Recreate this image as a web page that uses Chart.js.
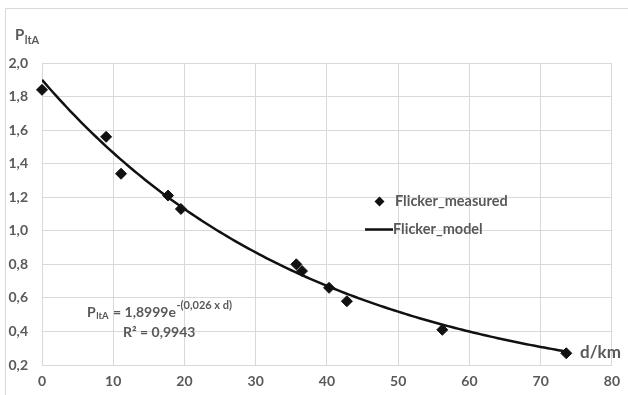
<!DOCTYPE html>
<html>
<head>
<meta charset="utf-8">
<script src="https://cdn.jsdelivr.net/npm/chart.js@4/dist/chart.umd.min.js"></script>
<style>
  html, body { margin: 0; padding: 0; background: #fff; }
  #wrap { width: 628px; height: 395px; position: relative; }
</style>
</head>
<body>
<div id="wrap"><canvas id="c" width="628" height="395"></canvas></div>
<script>
// Measured flicker severity P_ltA versus distance d (km)
const distanceKm      = [0, 9.0, 11.1, 17.7, 19.5, 35.7, 36.5, 40.3, 42.8, 56.2, 73.6];
const flickerMeasured = [1.84, 1.56, 1.34, 1.21, 1.13, 0.80, 0.76, 0.66, 0.58, 0.41, 0.27];

// Axis ticks
const xTicks = [0, 10, 20, 30, 40, 50, 60, 70, 80];
const yTicks = [0.2, 0.4, 0.6, 0.8, 1.0, 1.2, 1.4, 1.6, 1.8, 2.0];

// Exponential trend model: P_ltA = A * e^-(k * d)
const modelA = 1.8999;
const modelK = 0.026;
const modelR2 = '0,9943';

const seriesNames = ['Flicker_measured', 'Flicker_model'];

const TEXT = '#595959';
const GRID = '#d9d9d9';
const INK = '#111111';
const FONT = 'Lato, "Open Sans", sans-serif';

// Trend curve evaluated along the measured distance range
const modelPoints = [];
const dEnd = distanceKm[distanceKm.length - 1];
for (let d = 0; d < dEnd; d += 0.5) modelPoints.push({ x: d, y: modelA * Math.exp(-modelK * d) });
modelPoints.push({ x: dEnd, y: modelA * Math.exp(-modelK * dEnd) });

const measuredPoints = distanceKm.map((d, i) => ({ x: d, y: flickerMeasured[i] }));

const comma = v => v.toFixed(1).replace('.', ',');

// Frame, legend, axis titles and the trend equation
const decorations = {
  id: 'decorations',
  beforeDraw(chart) {
    const ctx = chart.ctx;
    ctx.save();
    ctx.strokeStyle = GRID;
    ctx.lineWidth = 1;
    ctx.beginPath();
    ctx.moveTo(5.5, 395);
    ctx.lineTo(5.5, 8.5);
    ctx.lineTo(628, 8.5);
    ctx.stroke();
    ctx.restore();
  },
  afterDraw(chart) {
    const ctx = chart.ctx;
    ctx.save();
    ctx.fillStyle = TEXT;
    ctx.textBaseline = 'middle';
    ctx.textAlign = 'left';

    // y axis title P_ltA
    ctx.font = 'bold 15px ' + FONT;
    ctx.fillText('P', 15, 35.5);
    let w = ctx.measureText('P').width;
    ctx.font = 'bold 11px ' + FONT;
    ctx.fillText('ltA', 15 + w + 0.5, 40);

    // x axis title
    ctx.font = 'bold 17px ' + FONT;
    ctx.fillText('d/km', 580, 353);

    // legend
    const mx = 379.5, my = 201.5, r = 5;
    ctx.fillStyle = INK;
    ctx.beginPath();
    ctx.moveTo(mx - r, my); ctx.lineTo(mx, my - r); ctx.lineTo(mx + r, my); ctx.lineTo(mx, my + r);
    ctx.closePath();
    ctx.fill();
    ctx.strokeStyle = INK;
    ctx.lineWidth = 2.5;
    ctx.beginPath();
    ctx.moveTo(365, 229.5); ctx.lineTo(393, 229.5);
    ctx.stroke();
    ctx.fillStyle = TEXT;
    ctx.font = 'bold 14.5px ' + FONT;
    ctx.fillText(seriesNames[0], 395, 201.5);
    ctx.fillText(seriesNames[1], 393, 229);

    // trend equation
    let x = 87;
    ctx.font = 'bold 14px ' + FONT;
    ctx.fillText('P', x, 312);
    x += ctx.measureText('P').width + 0.5;
    ctx.font = 'bold 9.5px ' + FONT;
    ctx.fillText('ltA', x, 316);
    x += ctx.measureText('ltA').width + 1;
    ctx.font = 'bold 14px ' + FONT;
    const mainEq = ' = ' + String(modelA).replace('.', ',') + 'e';
    ctx.fillText(mainEq, x, 312);
    x += ctx.measureText(mainEq).width + 0.5;
    ctx.font = 'bold 11px ' + FONT;
    ctx.fillText('-(' + String(modelK).replace('.', ',') + ' x d)', x, 305.5);
    ctx.font = 'bold 14px ' + FONT;
    ctx.fillText('R\u00B2 = ' + modelR2, 123, 332);
    ctx.restore();
  }
};

new Chart(document.getElementById('c'), {
  type: 'scatter',
  data: {
    datasets: [
      {
        label: seriesNames[1],
        data: modelPoints,
        showLine: true,
        borderColor: INK,
        borderWidth: 2.5,
        pointRadius: 0,
        tension: 0,
        fill: false
      },
      {
        label: seriesNames[0],
        data: measuredPoints,
        showLine: false,
        clip: false,
        pointStyle: 'rectRot',
        pointRadius: 5.5,
        pointBackgroundColor: INK,
        pointBorderColor: INK,
        pointBorderWidth: 1
      }
    ]
  },
  options: {
    responsive: false,
    animation: false,
    devicePixelRatio: 1,
    layout: { padding: { left: 0, right: 11, top: 63, bottom: 0 } },
    plugins: { legend: { display: false }, tooltip: { enabled: false } },
    scales: {
      x: {
        type: 'linear',
        min: 0, max: 80,
        afterBuildTicks: s => { s.ticks = xTicks.map(v => ({ value: v })); },
        afterFit: s => { s.height = 30; },
        grid: { color: GRID, lineWidth: 1, drawTicks: false },
        border: { color: GRID },
        ticks: {
          color: TEXT, padding: 8, maxRotation: 0, autoSkip: false,
          font: { family: FONT, size: 14, weight: 'bold' },
          callback: v => String(v)
        }
      },
      y: {
        type: 'linear',
        min: 0.2, max: 2.0,
        afterBuildTicks: s => { s.ticks = yTicks.map(v => ({ value: v })); },
        afterFit: s => { s.width = 42; },
        grid: { color: GRID, lineWidth: 1, drawTicks: false },
        border: { color: GRID },
        ticks: {
          color: TEXT, padding: 14, autoSkip: false,
          font: { family: FONT, size: 14, weight: 'bold' },
          callback: v => comma(v)
        }
      }
    }
  },
  plugins: [decorations]
});
</script>
</body>
</html>
